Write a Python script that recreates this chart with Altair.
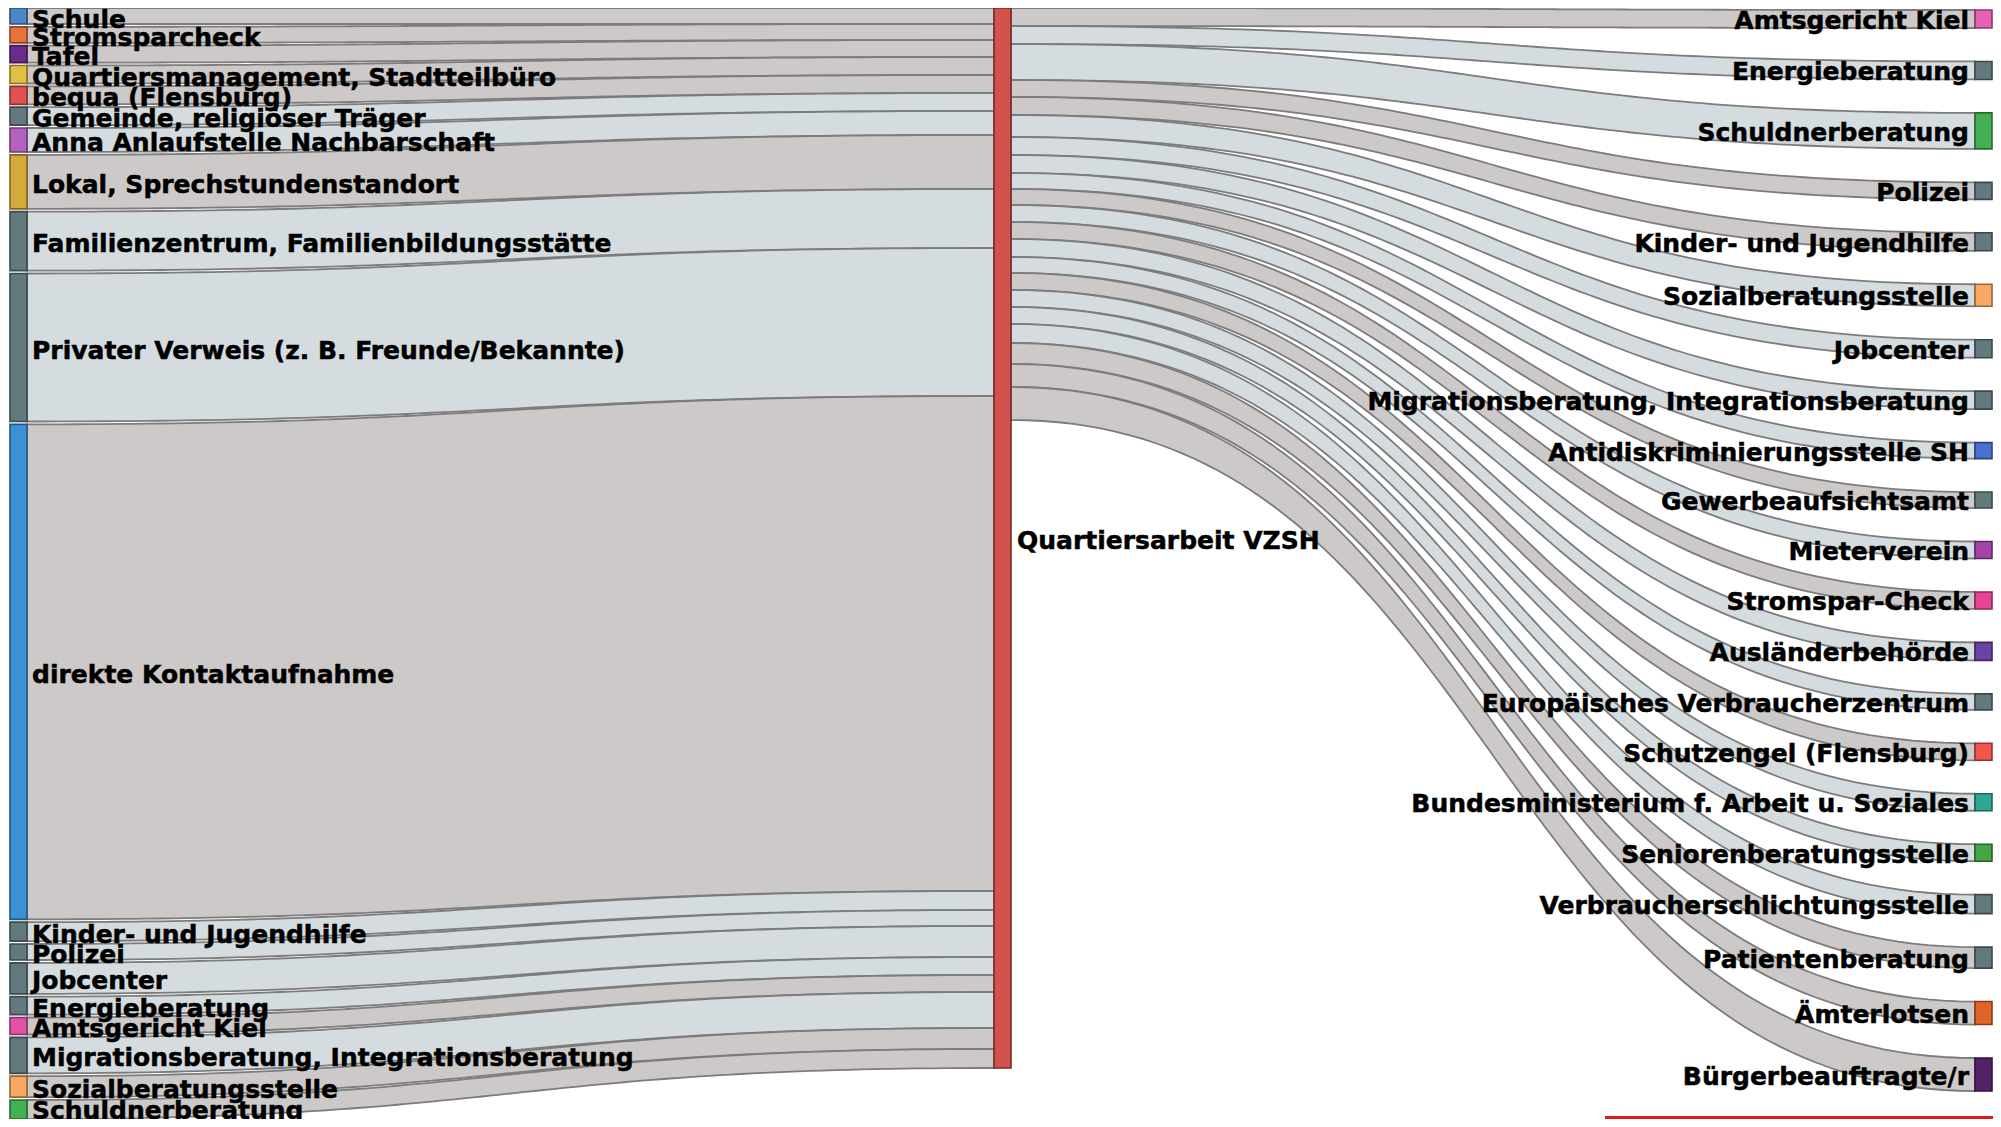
import altair as alt
import pandas as pd
import numpy as np

# ---------------- data ----------------
left_labels = [
    "Schule", "Stromsparcheck", "Tafel", "Quartiersmanagement, Stadtteilbüro",
    "bequa (Flensburg)", "Gemeinde, religiöser Träger", "Anna Anlaufstelle Nachbarschaft",
    "Lokal, Sprechstundenstandort", "Familienzentrum, Familienbildungsstätte",
    "Privater Verweis (z. B. Freunde/Bekannte)", "direkte Kontaktaufnahme",
    "Kinder- und Jugendhilfe", "Polizei", "Jobcenter", "Energieberatung",
    "Amtsgericht Kiel", "Migrationsberatung, Integrationsberatung",
    "Sozialberatungsstelle", "Schuldnerberatung",
]
left_values = [16, 16, 17, 18, 18, 18, 24, 54, 59, 148, 495, 19, 16, 31, 18, 17, 36, 21, 19]
left_colors = [
    "#4a86c8", "#e8743b", "#6a2c8a", "#e3c043", "#e05252", "#627a7e", "#b461c0",
    "#d4aa3a", "#627a7e", "#627a7e", "#3a92d4", "#627a7e", "#627a7e", "#627a7e",
    "#627a7e", "#e052a4", "#627a7e", "#f8a862", "#44b054",
]
left_link_kind = ["g", "g", "g", "g", "g", "b", "b", "g", "b", "b", "g",
                  "b", "b", "b", "b", "g", "b", "g", "g"]

center_label = "Quartiersarbeit VZSH"
center_color = "#d4524c"

right_labels = [
    "Amtsgericht Kiel", "Energieberatung", "Schuldnerberatung", "Polizei",
    "Kinder- und Jugendhilfe", "Sozialberatungsstelle", "Jobcenter",
    "Migrationsberatung, Integrationsberatung", "Antidiskriminierungsstelle SH",
    "Gewerbeaufsichtsamt", "Mieterverein", "Stromspar-Check", "Ausländerbehörde",
    "Europäisches Verbraucherzentrum", "Schutzengel (Flensburg)",
    "Bundesministerium f. Arbeit u. Soziales", "Seniorenberatungsstelle",
    "Verbraucherschlichtungsstelle", "Patientenberatung", "Ämterlotsen",
    "Bürgerbeauftragte/r",
]
right_values = [18, 18, 36, 17, 18, 22, 18, 18, 16, 16, 17, 17, 18, 16, 17, 17, 17, 19, 21, 23, 33]
right_colors = [
    "#e462b4", "#627a7e", "#44b054", "#627a7e", "#627a7e", "#f8a862", "#627a7e",
    "#627a7e", "#4a72cc", "#627a7e", "#a443a8", "#e84394", "#6a44a4", "#627a7e",
    "#f25450", "#2ea892", "#44a446", "#627a7e", "#627a7e", "#e0642a", "#542266",
]
right_link_kind = ["g", "b", "b", "g", "g", "b", "b", "b", "b", "g", "b", "g",
                   "b", "b", "g", "b", "b", "b", "g", "g", "g"]

# ---------------- layout constants ----------------
W, H = 1985, 1111
NODE_W = 17
X_LEFT, X_CENTER, X_RIGHT = 2, 986, 1967
CENTER_H = 1060
LEFT_BOTTOM = 1111
RIGHT_TOP, RIGHT_BOTTOM = 2, 1083
LINK_FILL = {"g": "#cdc9c9", "b": "#d5dcdf"}
LINK_STROKE = "#7c7c7c"
FONT_SIZE = 25
LABEL_MIN_Y, LABEL_MAX_Y = 8.5, H - 11


def darker(hexc, f=0.6):
    h = hexc.lstrip("#")
    r, g, b = (int(h[i:i + 2], 16) for i in (0, 2, 4))
    return "#%02x%02x%02x" % (int(r * f), int(g * f), int(b * f))


def clamp(v):
    return min(max(v, LABEL_MIN_Y), LABEL_MAX_Y)


ky = CENTER_H / sum(left_values)
PAD = (LEFT_BOTTOM - CENTER_H) / (len(left_values) - 1)

nodes = []
y = 0.0
left_pos = []
for v, c in zip(left_values, left_colors):
    h = v * ky
    left_pos.append((y, y + h))
    nodes.append(dict(x=X_LEFT, x2=X_LEFT + NODE_W, y=y, y2=y + h, fill=c, stroke=darker(c)))
    y += h + PAD

c_total = sum(left_values) * ky
nodes.append(dict(x=X_CENTER, x2=X_CENTER + NODE_W, y=0, y2=c_total,
                  fill=center_color, stroke=darker(center_color, 0.55)))

r_h = [v * ky for v in right_values]
gap = (RIGHT_BOTTOM - RIGHT_TOP - sum(r_h)) / (len(r_h) - 1)
y = RIGHT_TOP
right_pos = []
for h, c in zip(r_h, right_colors):
    right_pos.append((y, y + h))
    nodes.append(dict(x=X_RIGHT, x2=X_RIGHT + NODE_W, y=y, y2=y + h, fill=c, stroke=darker(c)))
    y += h + gap
nodes_df = pd.DataFrame(nodes)

# ---------------- links as bezier bands ----------------
t = np.linspace(0, 1, 90)


def band(x0, x1, a0, a1, b0, b1):
    xm = (x0 + x1) / 2
    xs = (1 - t) ** 3 * x0 + 3 * (1 - t) ** 2 * t * xm + 3 * (1 - t) * t ** 2 * xm + t ** 3 * x1
    s = 3 * t ** 2 - 2 * t ** 3
    return xs, a0 + (b0 - a0) * s, a1 + (b1 - a1) * s


rows = []
cy = 0.0
for i, (p, v, k) in enumerate(zip(left_pos, left_values, left_link_kind)):
    h = v * ky
    xs, ytop, ybot = band(X_LEFT + NODE_W, X_CENTER, p[0], p[1], cy, cy + h)
    cy += h
    for a, b, c in zip(xs, ytop, ybot):
        rows.append(dict(link="L%02d" % i, x=a, y=b, y2=c, fill=LINK_FILL[k]))
oy = 0.0
for j, (p, k) in enumerate(zip(right_pos, right_link_kind)):
    h = p[1] - p[0]
    xs, ytop, ybot = band(X_CENTER + NODE_W, X_RIGHT, oy, oy + h, p[0], p[1])
    oy += h
    for a, b, c in zip(xs, ytop, ybot):
        rows.append(dict(link="R%02d" % j, x=a, y=b, y2=c, fill=LINK_FILL[k]))
links_df = pd.DataFrame(rows)

# ---------------- labels ----------------
lab_rows = [dict(x=X_LEFT + NODE_W + 5, y=clamp((p[0] + p[1]) / 2), text=lab)
            for lab, p in zip(left_labels, left_pos)]
lab_rows.append(dict(x=X_CENTER + NODE_W + 6, y=c_total / 2, text=center_label))
left_lab_df = pd.DataFrame(lab_rows)
right_lab_df = pd.DataFrame([dict(x=X_RIGHT - 6, y=clamp((p[0] + p[1]) / 2 - 1), text=lab)
                             for lab, p in zip(right_labels, right_pos)])

xs = alt.Scale(domain=[0, W])
ys = alt.Scale(domain=[0, H], reverse=True)

link_layer = alt.Chart(links_df).mark_area(stroke=LINK_STROKE, strokeWidth=1.8).encode(
    x=alt.X("x:Q", scale=xs, axis=None),
    y=alt.Y("y:Q", scale=ys, axis=None),
    y2="y2:Q",
    fill=alt.Fill("fill:N", scale=None),
    detail="link:N",
)

node_layer = alt.Chart(nodes_df).mark_rect(strokeWidth=1.6).encode(
    x=alt.X("x:Q", scale=xs, axis=None), x2="x2:Q",
    y=alt.Y("y:Q", scale=ys, axis=None), y2="y2:Q",
    fill=alt.Fill("fill:N", scale=None),
    stroke=alt.Stroke("stroke:N", scale=None),
)

text_common = dict(font="DejaVu Sans", fontSize=FONT_SIZE, fontWeight="bold", dy=3,
                   baseline="middle", color="black", stroke="black", strokeWidth=0.5)
left_text = alt.Chart(left_lab_df).mark_text(align="left", **text_common).encode(
    x=alt.X("x:Q", scale=xs, axis=None), y=alt.Y("y:Q", scale=ys, axis=None), text="text:N")
right_text = alt.Chart(right_lab_df).mark_text(align="right", **text_common).encode(
    x=alt.X("x:Q", scale=xs, axis=None), y=alt.Y("y:Q", scale=ys, axis=None), text="text:N")

red_rule = alt.Chart(pd.DataFrame({"a": [0]})).mark_rule(color="#e3191c", strokeWidth=3).encode(
    x=alt.value(1597), x2=alt.value(W), y=alt.value(H - 1.5))

chart = alt.layer(link_layer, node_layer, left_text, right_text, red_rule).properties(
    width=W, height=H, padding=0, autosize=alt.AutoSizeParams(type="none"),
    background="white",
).configure_view(stroke=None)

chart.save("out.html", embed_options={"renderer": "svg", "actions": False})
